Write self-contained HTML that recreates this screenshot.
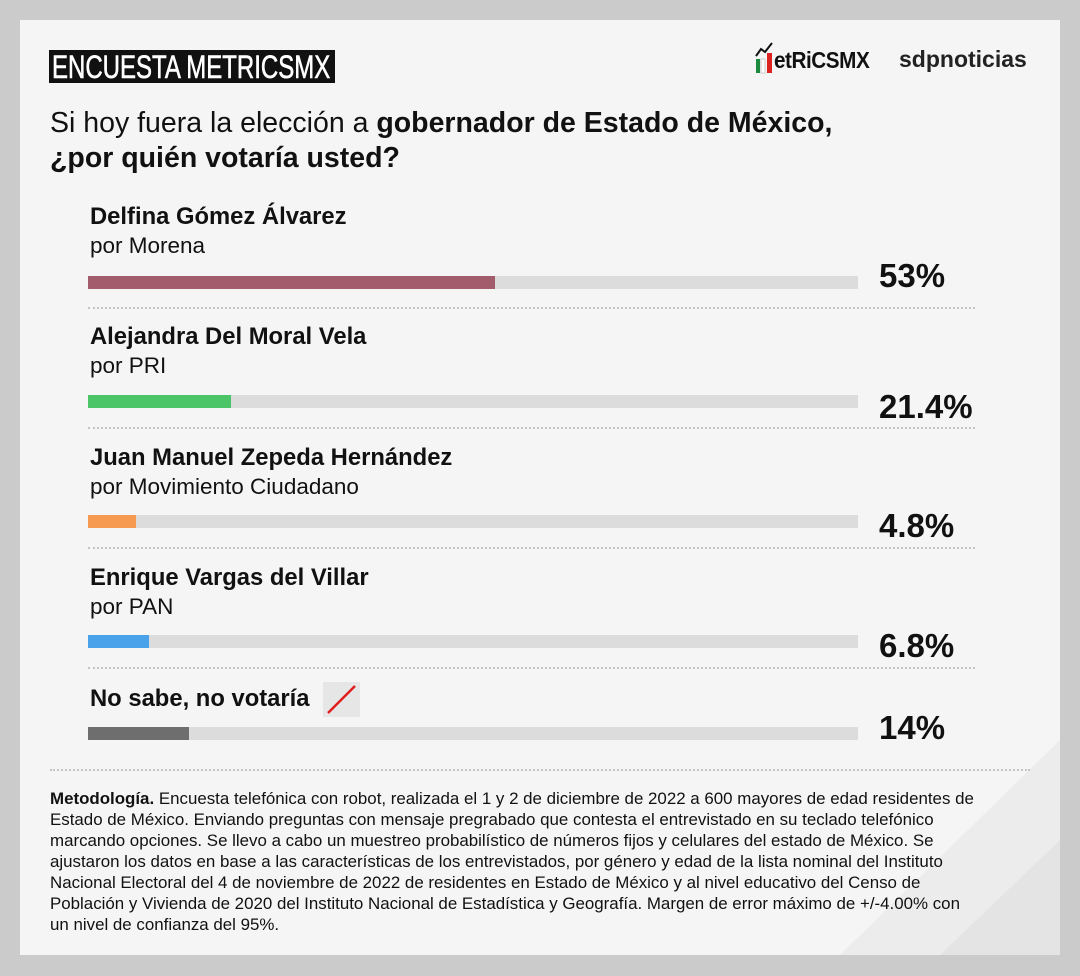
<!DOCTYPE html>
<html><head><meta charset="utf-8"><style>
body{margin:0;width:1080px;height:976px;background:#cbcbcb;position:relative;overflow:hidden;font-family:"Liberation Sans",sans-serif;color:#111}
.card{position:absolute;left:20px;top:20px;width:1040px;height:935px;background:#f5f5f5;overflow:hidden}
.a{position:absolute;white-space:nowrap}
.hdr{left:49px;top:50px;width:286px;height:33px;background:#111;overflow:hidden}
.hdr span{position:absolute;left:3px;top:0;color:#fff;font-size:32px;line-height:34px;transform:scaleX(0.75);transform-origin:left top;white-space:nowrap;-webkit-text-stroke:0.6px #fff}
.q{left:50px;top:106px;font-size:28.5px;line-height:35px;color:#111}
.n{left:90px;font-size:23.8px;font-weight:bold}
.s{left:90px;font-size:22.5px}
.bg{left:88px;width:770px;height:13px;background:#dcdcdc}
.p{left:879px;font-size:33px;font-weight:bold}
.d{left:88px;width:887px;border-top:2px dotted #c4c4c4;height:0}
.m{left:50px;top:788px;font-size:16.9px;line-height:21px;color:#111}
</style></head><body>
<div class="card"><svg width="1040" height="935" style="position:absolute;left:0;top:0"><polygon points="1040,720 1040,935 820,935" fill="#ececec"/><polygon points="1040,820 1040,935 920,935" fill="#e4e4e4"/></svg></div>
<div class="a hdr"><span>ENCUESTA METRICSMX</span></div>
<div class="a" style="left:755px;top:40px;width:130px;height:34px">
<svg width="20" height="34" style="position:absolute;left:0;top:0"><polyline points="1,16 6,9 10,12 17,3" stroke="#111" stroke-width="2" fill="none"/><rect x="1" y="19" width="4" height="14" fill="#1c8a3c"/><rect x="6" y="19" width="4" height="14" fill="#fff" stroke="#ccc"/><rect x="12" y="13" width="5" height="20" fill="#d22"/></svg>
<span style="position:absolute;left:19px;top:7px;font-weight:bold;font-size:23px;transform:scaleX(0.9);transform-origin:left top;letter-spacing:-0.5px">etRiCSMX</span></div>
<div class="a" style="left:899px;top:46px;font-size:23px;font-weight:bold;color:#222">sdpnoticias</div>
<div class="a q">Si hoy fuera la elección a <b>gobernador de Estado de México,<br>¿por quién votaría usted?</b></div>

<div class="a n" style="top:203px">Delfina Gómez Álvarez</div>
<div class="a s" style="top:233px">por Morena</div>
<div class="a bg" style="top:276px"><div style="width:407px;height:13px;background:#a35c6c"></div></div>
<div class="a p" style="top:257px">53%</div>
<div class="a d" style="top:307px"></div>

<div class="a n" style="top:323px">Alejandra Del Moral Vela</div>
<div class="a s" style="top:353px">por PRI</div>
<div class="a bg" style="top:395px"><div style="width:143px;height:13px;background:#4cc468"></div></div>
<div class="a p" style="top:388px">21.4%</div>
<div class="a d" style="top:427px"></div>

<div class="a n" style="top:444px">Juan Manuel Zepeda Hernández</div>
<div class="a s" style="top:474px">por Movimiento Ciudadano</div>
<div class="a bg" style="top:515px"><div style="width:48px;height:13px;background:#f59a50"></div></div>
<div class="a p" style="top:507px">4.8%</div>
<div class="a d" style="top:547px"></div>

<div class="a n" style="top:564px">Enrique Vargas del Villar</div>
<div class="a s" style="top:594px">por PAN</div>
<div class="a bg" style="top:635px"><div style="width:61px;height:13px;background:#4aa3ea"></div></div>
<div class="a p" style="top:627px">6.8%</div>
<div class="a d" style="top:667px"></div>

<div class="a n" style="top:685px">No sabe, no votaría</div>
<svg class="a" style="left:323px;top:682px" width="37" height="35"><rect width="37" height="35" fill="#e6e6e6"/><line x1="5" y1="31" x2="32" y2="4" stroke="#e02020" stroke-width="2.5"/></svg>
<div class="a bg" style="top:727px"><div style="width:101px;height:13px;background:#6e6e6e"></div></div>
<div class="a p" style="top:709px">14%</div>
<div class="a d" style="top:769px;left:50px;width:980px"></div>

<div class="a m"><b>Metodología.</b> Encuesta telefónica con robot, realizada el 1 y 2 de diciembre de 2022 a 600 mayores de edad residentes de<br>Estado de México. Enviando preguntas con mensaje pregrabado que contesta el entrevistado en su teclado telefónico<br>marcando opciones. Se llevo a cabo un muestreo probabilístico de números fijos y celulares del estado de México. Se<br>ajustaron los datos en base a las características de los entrevistados, por género y edad de la lista nominal del Instituto<br>Nacional Electoral del 4 de noviembre de 2022 de residentes en Estado de México y al nivel educativo del Censo de<br>Población y Vivienda de 2020 del Instituto Nacional de Estadística y Geografía. Margen de error máximo de +/-4.00% con<br>un nivel de confianza del 95%.</div>
</body></html>
